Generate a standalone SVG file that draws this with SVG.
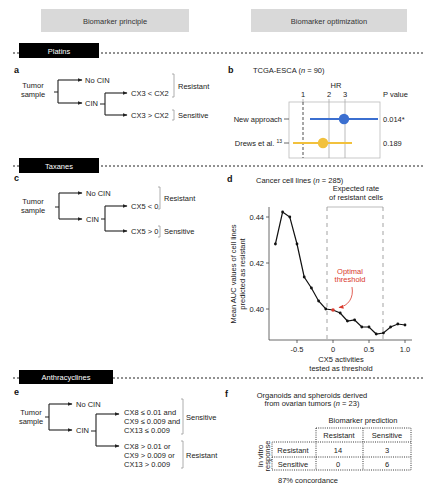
<svg xmlns="http://www.w3.org/2000/svg" width="425" height="500" viewBox="0 0 425 500">
<style>
text{font-family:"Liberation Sans",Arial,sans-serif;font-size:7.5px;fill:#222}
.lbl{font-weight:bold;font-size:9px;fill:#111}
.hdr{font-size:7.5px;fill:#333}
.band{font-size:7.5px;fill:#fff}
.sep{stroke:#222;stroke-width:1;stroke-dasharray:2 2;fill:none}
.tree{stroke:#222;stroke-width:1.1;fill:none}
.br{stroke:#999;stroke-width:0.8;fill:none}
.grid{stroke:#aaa;stroke-width:0.8;fill:none}
.ax{stroke:#444;stroke-width:0.8;fill:none}
.tbl{stroke:#222;stroke-width:0.9;stroke-dasharray:1 1.2;fill:none}
.m{text-anchor:middle}
.e{text-anchor:end}
.red{fill:#d9392c}
</style>
<defs>
<marker id="ah" markerWidth="5" markerHeight="4" refX="4.5" refY="2" orient="auto" markerUnits="userSpaceOnUse">
<path d="M0,0 L5,2 L0,4 Z" fill="#222"/>
</marker>
<marker id="rah" markerWidth="5" markerHeight="4" refX="4.5" refY="2" orient="auto" markerUnits="userSpaceOnUse">
<path d="M0,0 L5,2 L0,4 Z" fill="#d9392c"/>
</marker>
</defs>
<rect width="425" height="500" fill="#fff"/>

<g id="headers">
<rect x="41" y="9" width="148" height="23" fill="#d9d9d9"/>
<text class="hdr m" x="115" y="23.5">Biomarker principle</text>
<rect x="251" y="9" width="156" height="23" fill="#d9d9d9"/>
<text class="hdr m" x="329" y="23.5">Biomarker optimization</text>
</g>

<g id="separators">
<line class="sep" x1="13" y1="53" x2="425" y2="53"/>
<line class="sep" x1="13" y1="166" x2="425" y2="166"/>
<line class="sep" x1="13" y1="378" x2="425" y2="378"/>
</g>

<g id="band-platins">
<rect x="19" y="43" width="80" height="15" fill="#000"/>
<text class="band m" x="59" y="53.5">Platins</text>
</g>
<g id="band-taxanes">
<rect x="19" y="158" width="80" height="15" fill="#000"/>
<text class="band m" x="59" y="168.5">Taxanes</text>
</g>
<g id="band-anthracyclines">
<rect x="19" y="370" width="94" height="14" fill="#000"/>
<text class="band m" x="66" y="380">Anthracyclines</text>
</g>

<!-- Panel a -->
<g id="panel-a">
<text class="lbl" x="14" y="73">a</text>
<text class="m" x="33" y="88">Tumor</text>
<text class="m" x="33" y="97">sample</text>
<text x="85" y="83">No CIN</text>
<text x="85" y="106">CIN</text>
<text x="131" y="96">CX3 &lt; CX2</text>
<text x="131" y="118">CX3 &gt; CX2</text>
<text x="178" y="89">Resistant</text>
<text x="178" y="118">Sensitive</text>
</g>
<g id="connectors-a">
<path class="tree" d="M54,92 H58 M58,80 V103"/>
<path class="tree" d="M58,80 H82" marker-end="url(#ah)"/>
<path class="tree" d="M58,103 H82" marker-end="url(#ah)"/>
<path class="tree" d="M100,104 H105 M105,93 V115"/>
<path class="tree" d="M105,93 H127" marker-end="url(#ah)"/>
<path class="tree" d="M105,115 H127" marker-end="url(#ah)"/>
<path class="br" d="M172,74 H174 V97 H172"/>
<path class="br" d="M172,110 H174 V120 H172"/>
</g>

<!-- Panel b -->
<g id="panel-b">
<text class="lbl" x="228" y="73">b</text>
<text x="253" y="73">TCGA-ESCA (<tspan font-style="italic">n</tspan> = 90)</text>
<text class="m" x="336" y="88">HR</text>
<text class="m" x="303" y="97">1</text>
<text class="m" x="329" y="97">2</text>
<text class="m" x="345" y="97">3</text>
<text x="383" y="97">P value</text>
<rect x="289" y="102" width="91" height="56" fill="none" stroke="#bbb" stroke-width="0.8"/>
<path class="grid" d="M303,99 V102 M329,99 V158 M345,99 V158"/>
<line x1="303" y1="102" x2="303" y2="158" stroke="#222" stroke-width="0.8" stroke-dasharray="3 2"/>
<path class="ax" d="M284,119 H289 M284,143 H289"/>
<text class="e" x="282" y="122">New approach</text>
<text class="e" x="282" y="146">Drews et al. <tspan font-size="5" dy="-3">13</tspan></text>
<line x1="310" y1="119" x2="378" y2="119" stroke="#3b6fd0" stroke-width="2"/>
<circle cx="344" cy="119" r="5.2" fill="#3b6fd0"/>
<line x1="293" y1="143" x2="352" y2="143" stroke="#f2c13c" stroke-width="2"/>
<circle cx="323" cy="143" r="5.2" fill="#f2c13c"/>
<text x="383" y="122">0.014*</text>
<text x="383" y="146">0.189</text>
</g>

<!-- Panel c -->
<g id="panel-c">
<text class="lbl" x="14" y="181">c</text>
<text class="m" x="33" y="204">Tumor</text>
<text class="m" x="33" y="213">sample</text>
<text x="86" y="196">No CIN</text>
<text x="86" y="222">CIN</text>
<text x="131" y="209">CX5 &lt; 0</text>
<text x="131" y="234">CX5 &gt; 0</text>
<text x="164" y="201">Resistant</text>
<text x="164" y="234">Sensitive</text>
</g>
<g id="connectors-c">
<path class="tree" d="M55,207 H59 M59,193 V219"/>
<path class="tree" d="M59,193 H82" marker-end="url(#ah)"/>
<path class="tree" d="M59,219 H82" marker-end="url(#ah)"/>
<path class="tree" d="M101,219 H105 M105,206 V231"/>
<path class="tree" d="M105,206 H127" marker-end="url(#ah)"/>
<path class="tree" d="M105,231 H127" marker-end="url(#ah)"/>
<path class="br" d="M158,187 H160 V209 H158"/>
<path class="br" d="M158,226 H160 V237 H158"/>
</g>

<!-- Panel d -->
<g id="panel-d">
<text class="lbl" x="227" y="182">d</text>
<text x="256" y="183">Cancer cell lines (<tspan font-style="italic">n</tspan> = 285)</text>
<text class="m" x="356" y="191">Expected rate</text>
<text class="m" x="356" y="200">of resistant cells</text>
<path d="M327,207 H383" stroke="#aaa" stroke-width="0.8" fill="none"/>
<path d="M327,207 V340 M383,207 V340" stroke="#999" stroke-width="0.9" stroke-dasharray="4 4" fill="none"/>
<path class="ax" d="M269,207 V340 H412"/>
<path class="ax" d="M266,217 H269 M266,263 H269 M266,309 H269 M297,340 V343 M333,340 V343 M369,340 V343 M405,340 V343"/>
<text class="e" x="264" y="219.5">0.44</text>
<text class="e" x="264" y="265.5">0.42</text>
<text class="e" x="264" y="311.5">0.40</text>
<text class="m" x="297" y="352">-0.5</text>
<text class="m" x="333" y="352">0</text>
<text class="m" x="369" y="352">0.5</text>
<text class="m" x="405" y="352">1.0</text>
<text class="m" x="341" y="362">CX5 activities</text>
<text class="m" x="341" y="371">tested as threshold</text>
<text class="m" transform="translate(236,274) rotate(-90)">Mean AUC values of cell lines</text>
<text class="m" transform="translate(244.5,274) rotate(-90)">predicted as resistant</text>
<polyline fill="none" stroke="#111" stroke-width="1.2" points="275.4,244 282.6,212 289.8,217 297,244 304.2,277 311.4,288 318.6,301 325.8,309 333,310 340.2,313 347.4,321 354.6,320 361.8,327 369,327 376.2,334 383.4,333 390.6,327 397.8,324 405,325"/>
<g fill="#111">
<circle cx="275.4" cy="244" r="1.4"/><circle cx="282.6" cy="212" r="1.4"/><circle cx="289.8" cy="217" r="1.4"/><circle cx="297" cy="244" r="1.4"/><circle cx="304.2" cy="277" r="1.4"/><circle cx="311.4" cy="288" r="1.4"/><circle cx="318.6" cy="301" r="1.4"/><circle cx="325.8" cy="309" r="1.4"/><circle cx="340.2" cy="313" r="1.4"/><circle cx="347.4" cy="321" r="1.4"/><circle cx="354.6" cy="320" r="1.4"/><circle cx="361.8" cy="327" r="1.4"/><circle cx="369" cy="327" r="1.4"/><circle cx="376.2" cy="334" r="1.4"/><circle cx="383.4" cy="333" r="1.4"/><circle cx="390.6" cy="327" r="1.4"/><circle cx="397.8" cy="324" r="1.4"/><circle cx="405" cy="325" r="1.4"/>
</g>
<circle cx="333" cy="310" r="1.8" fill="#d9392c"/>
<text class="m red" x="350" y="274">Optimal</text>
<text class="m red" x="350" y="282">threshold</text>
<path d="M352,287 C354,298 348,306 339,307.5" stroke="#d9392c" stroke-width="0.8" fill="none" marker-end="url(#rah)"/>
</g>

<!-- Panel e -->
<g id="panel-e">
<text class="lbl" x="14" y="395">e</text>
<text class="m" x="31" y="415">Tumor</text>
<text class="m" x="31" y="424">sample</text>
<text x="76" y="407">No CIN</text>
<text x="76" y="433">CIN</text>
<text x="124" y="415">CX8 ≤ 0.01 and</text>
<text x="124" y="424">CX9 ≤ 0.009 and</text>
<text x="124" y="433">CX13 ≤ 0.009</text>
<text x="124" y="449">CX8 &gt; 0.01 or</text>
<text x="124" y="458">CX9 &gt; 0.009 or</text>
<text x="124" y="467">CX13 &gt; 0.009</text>
<text x="186" y="420">Sensitive</text>
<text x="186" y="458">Resistant</text>
</g>
<g id="connectors-e">
<path class="tree" d="M45,417 H49 M49,404 V430"/>
<path class="tree" d="M49,404 H72" marker-end="url(#ah)"/>
<path class="tree" d="M49,430 H72" marker-end="url(#ah)"/>
<path class="tree" d="M91,431 H96 M96,414 V446"/>
<path class="tree" d="M96,414 H119" marker-end="url(#ah)"/>
<path class="tree" d="M96,446 H119" marker-end="url(#ah)"/>
<path class="br" d="M181,399 H183 V434 H181"/>
<path class="br" d="M181,441 H183 V468 H181"/>
</g>

<!-- Panel f -->
<g id="panel-f">
<text class="lbl" x="225" y="397">f</text>
<text class="m" x="312" y="398">Organoids and spheroids derived</text>
<text class="m" x="312" y="406">from ovarian tumors (<tspan font-style="italic">n</tspan> = 23)</text>
<text class="m" x="363" y="423">Biomarker prediction</text>
<path class="tbl" d="M316,428 H411 V470 H272 V442 H411 M316,428 V470 M363,428 V470 M272,457 H411"/>
<text class="m" x="339" y="438">Resistant</text>
<text class="m" x="387" y="438">Sensitive</text>
<text class="m" x="293" y="452.5">Resistant</text>
<text class="m" x="293" y="467">Sensitive</text>
<text class="m" x="338" y="452.5">14</text>
<text class="m" x="387" y="452.5">3</text>
<text class="m" x="338" y="467">0</text>
<text class="m" x="387" y="467">6</text>
<text class="m" transform="translate(263,456) rotate(-90)">In vitro</text>
<text class="m" transform="translate(269.5,456) rotate(-90)">response</text>
<text x="278" y="483">87% concordance</text>
</g>
</svg>
